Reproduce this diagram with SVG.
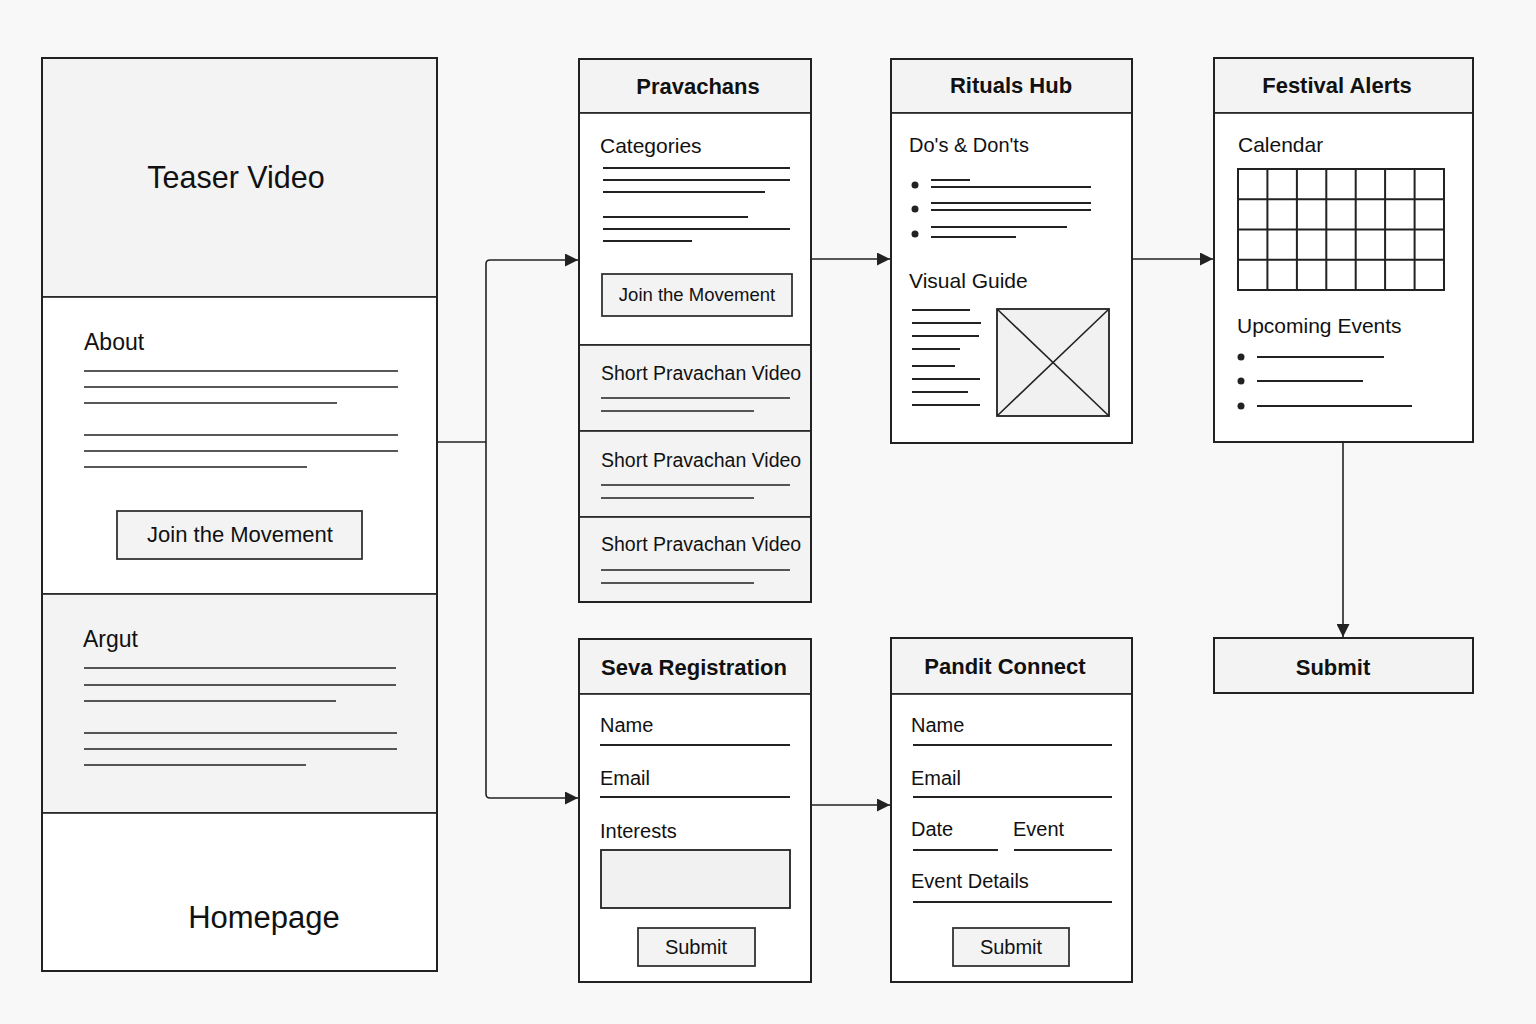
<svg xmlns="http://www.w3.org/2000/svg" width="1536" height="1024" viewBox="0 0 1536 1024">
  <defs>
    <marker id="arrow" viewBox="0 0 10 10" refX="10" refY="5" markerWidth="13" markerHeight="13" markerUnits="userSpaceOnUse" orient="auto">
      <path d="M0,0 L10,5 L0,10 z" fill="#222"/>
    </marker>
    <style>
      text { font-family: "Liberation Sans", Arial, sans-serif; fill: #111; }
      .frame { fill: #ffffff; stroke: #222; stroke-width: 2; }
      .band { fill: #f3f3f3; stroke: #222; stroke-width: 1.6; }
      .plain { fill: #ffffff; stroke: #222; stroke-width: 1.6; }
      .btn { fill: #f3f3f3; stroke: #333; stroke-width: 1.8; }
      .ln { stroke: #222; stroke-width: 2; fill: none; }
      .ln-thin { stroke: #222; stroke-width: 1.6; fill: none; }
      .title { font-size: 22px; font-weight: bold; text-anchor: middle; }
      .label { font-size: 20px; }
      .dot { fill: #222; }
      .conn { stroke: #222; stroke-width: 1.6; fill: none; marker-end: url(#arrow); }
      .conn-plain { stroke: #222; stroke-width: 1.6; fill: none; }
    </style>
  </defs>

  <rect width="1536" height="1024" fill="#f8f8f8"/>

  <!-- Homepage -->
  <g id="homepage">
    <rect class="band" x="42" y="58" width="395" height="239"/>
    <rect class="plain" x="42" y="297" width="395" height="297"/>
    <rect class="band" x="42" y="594" width="395" height="219"/>
    <rect class="plain" x="42" y="813" width="395" height="158"/>
    <rect x="42" y="58" width="395" height="913" fill="none" stroke="#222" stroke-width="2"/>
    <text x="236" y="188" font-size="30.5" text-anchor="middle">Teaser Video</text>
    <text x="84" y="350" font-size="23">About</text>
    <path class="ln-thin" d="M84 371H398M84 387H398M84 403H337M84 435H398M84 451H398M84 467H307"/>
    <rect class="btn" x="117" y="511" width="245" height="48"/>
    <text x="240" y="542" font-size="22" text-anchor="middle">Join the Movement</text>
    <text x="83" y="647" font-size="23">Argut</text>
    <path class="ln-thin" d="M84 668H396M84 685H396M84 701H336M84 733H397M84 749H397M84 765H306"/>
    <text x="264" y="928" font-size="31" text-anchor="middle">Homepage</text>
  </g>

  <!-- Pravachans -->
  <g id="pravachans">
    <rect class="band" x="579" y="59" width="232" height="54"/>
    <rect class="plain" x="579" y="113" width="232" height="232"/>
    <rect class="band" x="579" y="345" width="232" height="86"/>
    <rect class="band" x="579" y="431" width="232" height="86"/>
    <rect class="band" x="579" y="517" width="232" height="85"/>
    <rect x="579" y="59" width="232" height="543" fill="none" stroke="#222" stroke-width="2"/>
    <text class="title" x="698" y="94">Pravachans</text>
    <text x="600" y="153" font-size="21">Categories</text>
    <path class="ln" d="M603 168H790M603 180H790M603 192H765M603 217H748M603 229H790M603 241H692"/>
    <rect class="btn" x="602" y="274" width="190" height="42"/>
    <text x="697" y="301" font-size="18.5" text-anchor="middle">Join the Movement</text>
    <text x="601" y="380" font-size="19.5">Short Pravachan Video</text>
    <path class="ln-thin" d="M601 398H790M601 411H754"/>
    <text x="601" y="467" font-size="19.5">Short Pravachan Video</text>
    <path class="ln-thin" d="M601 485H790M601 498H754"/>
    <text x="601" y="551" font-size="19.5">Short Pravachan Video</text>
    <path class="ln-thin" d="M601 570H790M601 583H754"/>
  </g>

  <!-- Rituals Hub -->
  <g id="rituals-hub">
    <rect class="band" x="891" y="59" width="241" height="54"/>
    <rect class="plain" x="891" y="113" width="241" height="330"/>
    <rect x="891" y="59" width="241" height="384" fill="none" stroke="#222" stroke-width="2"/>
    <text class="title" x="1011" y="93">Rituals Hub</text>
    <text x="909" y="152" font-size="20">Do's &amp; Don'ts</text>
    <circle class="dot" cx="915" cy="185" r="3.5"/>
    <circle class="dot" cx="915" cy="209" r="3.5"/>
    <circle class="dot" cx="915" cy="234" r="3.5"/>
    <path class="ln" d="M931 180H970M931 187H1091M931 203H1091M931 210H1091M931 227H1067M931 237H1016"/>
    <text x="909" y="288" font-size="21">Visual Guide</text>
    <path class="ln" d="M912 310H970M912 323H981M912 336H979M912 349H960M912 366H955M912 379H980M912 392H968M912 405H980"/>
    <rect x="997" y="309" width="112" height="107" fill="#f1f1f1" stroke="#222" stroke-width="1.8"/>
    <path class="ln-thin" d="M997 309L1109 416M1109 309L997 416"/>
  </g>

  <!-- Festival Alerts -->
  <g id="festival-alerts">
    <rect class="band" x="1214" y="58" width="259" height="55"/>
    <rect class="plain" x="1214" y="113" width="259" height="329"/>
    <rect x="1214" y="58" width="259" height="384" fill="none" stroke="#222" stroke-width="2"/>
    <text class="title" x="1337" y="93" font-size="23">Festival Alerts</text>
    <text x="1238" y="152" font-size="21">Calendar</text>
    <rect x="1238" y="169" width="206" height="121" fill="#fff" stroke="#222" stroke-width="2"/>
    <path class="ln" d="M1267.4 169V290M1296.9 169V290M1326.3 169V290M1355.7 169V290M1385.1 169V290M1414.6 169V290M1238 199.3H1444M1238 229.5H1444M1238 259.8H1444"/>
    <text x="1237" y="333" font-size="21">Upcoming Events</text>
    <circle class="dot" cx="1241" cy="357" r="3.5"/>
    <circle class="dot" cx="1241" cy="381" r="3.5"/>
    <circle class="dot" cx="1241" cy="406" r="3.5"/>
    <path class="ln" d="M1257 357H1384M1257 381H1363M1257 406H1412"/>
  </g>

  <!-- Submit -->
  <g id="submit">
    <rect x="1214" y="638" width="259" height="55" fill="#f3f3f3" stroke="#222" stroke-width="2"/>
    <text class="title" x="1333" y="675">Submit</text>
  </g>

  <!-- Seva Registration -->
  <g id="seva-registration">
    <rect class="band" x="579" y="639" width="232" height="55"/>
    <rect class="plain" x="579" y="694" width="232" height="288"/>
    <rect x="579" y="639" width="232" height="343" fill="none" stroke="#222" stroke-width="2"/>
    <text class="title" x="694" y="675">Seva Registration</text>
    <text class="label" x="600" y="732">Name</text>
    <path class="ln" d="M600 745H790"/>
    <text class="label" x="600" y="785">Email</text>
    <path class="ln" d="M600 797H790"/>
    <text class="label" x="600" y="838">Interests</text>
    <rect x="601" y="850" width="189" height="58" fill="#f1f1f1" stroke="#222" stroke-width="1.8"/>
    <rect class="btn" x="638" y="928" width="117" height="38"/>
    <text x="696" y="954" font-size="20" text-anchor="middle">Submit</text>
  </g>

  <!-- Pandit Connect -->
  <g id="pandit-connect">
    <rect class="band" x="891" y="638" width="241" height="56"/>
    <rect class="plain" x="891" y="694" width="241" height="288"/>
    <rect x="891" y="638" width="241" height="344" fill="none" stroke="#222" stroke-width="2"/>
    <text class="title" x="1005" y="674">Pandit Connect</text>
    <text class="label" x="911" y="732">Name</text>
    <path class="ln" d="M913 745H1112"/>
    <text class="label" x="911" y="785">Email</text>
    <path class="ln" d="M913 797H1112"/>
    <text class="label" x="911" y="836">Date</text>
    <text class="label" x="1013" y="836">Event</text>
    <path class="ln" d="M913 850H998M1014 850H1112"/>
    <text class="label" x="911" y="888">Event Details</text>
    <path class="ln" d="M913 902H1112"/>
    <rect class="btn" x="953" y="928" width="116" height="38"/>
    <text x="1011" y="954" font-size="20" text-anchor="middle">Submit</text>
  </g>

  <!-- Connectors -->
  <g id="connectors">
    <path class="conn-plain" d="M437 442H486"/>
    <path class="conn" d="M486 442V264Q486 260 490 260H578"/>
    <path class="conn" d="M486 442V794Q486 798 490 798H578"/>
    <path class="conn" d="M811 259H890"/>
    <path class="conn" d="M1132 259H1213"/>
    <path class="conn" d="M1343 442V637"/>
    <path class="conn" d="M811 805H890"/>
  </g>
</svg>
